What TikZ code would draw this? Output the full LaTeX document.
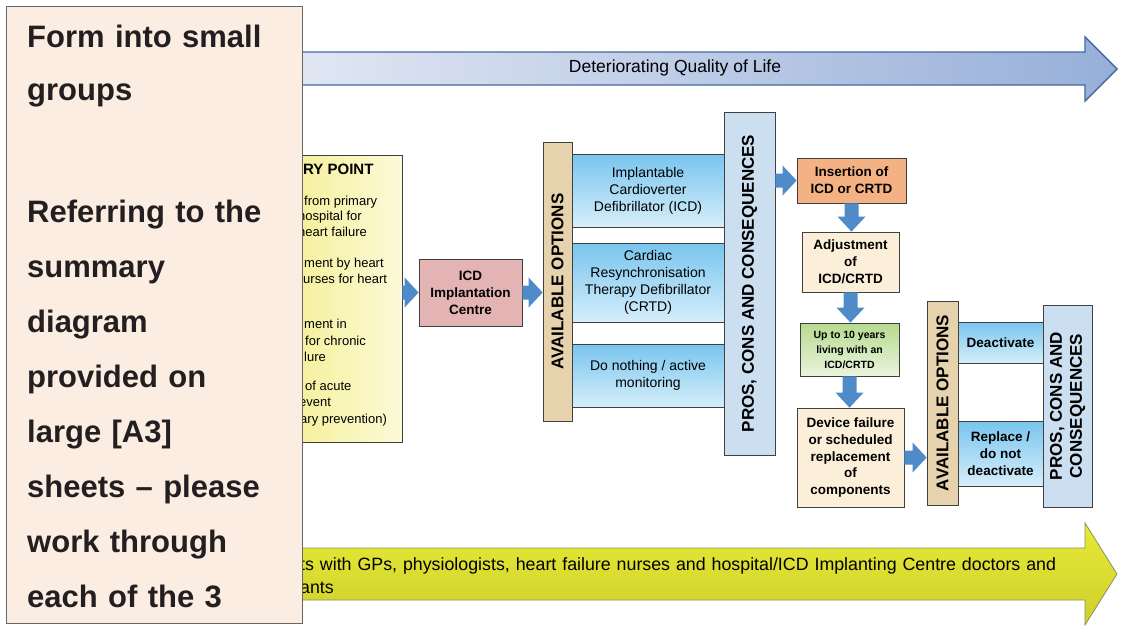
\documentclass[tikz,border=0pt]{standalone}
\usepackage{fontspec}
\setmainfont{Liberation Sans}
\usetikzlibrary{calc}
\definecolor{panelfill}{HTML}{FCEDE2}
\definecolor{paneltext}{HTML}{231F20}
\definecolor{edge}{HTML}{404040}
\definecolor{qolleft}{HTML}{E1E7F3}
\definecolor{qolright}{HTML}{97AFD9}
\definecolor{qoledge}{HTML}{44689E}
\definecolor{ylwtop}{HTML}{E8EA36}
\definecolor{ylwbot}{HTML}{CDCF2C}
\definecolor{ylwedge}{HTML}{8E8E63}
\definecolor{entryleft}{HTML}{F5F09C}
\definecolor{entryright}{HTML}{FCFAD8}
\definecolor{pinkfill}{HTML}{E4B4B4}
\definecolor{tanfill}{HTML}{E6D2AC}
\definecolor{optop}{HTML}{78C5EE}
\definecolor{opbot}{HTML}{D6EEFA}
\definecolor{prosfill}{HTML}{CCDFF1}
\definecolor{orangefill}{HTML}{F4B183}
\definecolor{creamfill}{HTML}{FBEFD9}
\definecolor{greentop}{HTML}{B6DA8F}
\definecolor{greenbot}{HTML}{EAF4DD}
\definecolor{arrowblue}{HTML}{4F8BC8}
\newcommand\hblockarrow[2]{\fill[blockarrow] let \p1=#1, \p2=#2 in
  (\x1,\y1+7) -- (\x2-14,\y1+7) -- (\x2-14,\y1+15) -- (\x2,\y1) --
  (\x2-14,\y1-15) -- (\x2-14,\y1-7) -- (\x1,\y1-7) -- cycle;}
\newcommand\vblockarrow[2]{\fill[blockarrow] let \p1=#1, \p2=#2 in
  (\x1-7,\y1) -- (\x1-7,\y2+15) -- (\x1-14,\y2+15) -- (\x1,\y2) --
  (\x1+14,\y2+15) -- (\x1+7,\y2+15) -- (\x1+7,\y1) -- cycle;}
\begin{document}
\begin{tikzpicture}[x=1pt,y=-1pt,
  every node/.style={inner sep=0pt, align=center},
  box/.style={draw=edge, line width=0.8pt},
  bold/.style={font=\bfseries\fontsize{13.5}{17}\selectfont},
  plain/.style={font=\fontsize{14}{17}\selectfont},
  vbar/.style={draw=edge, line width=0.8pt, rotate=90, font=\bfseries\fontsize{17}{20}\selectfont},
  blockarrow/.style={fill=arrowblue},
  entrytext/.style={anchor=base west, font=\fontsize{13}{16}\selectfont}]
\useasboundingbox (0,0) rectangle (1142,625);
\fill[white] (0,0) rectangle (1142,625);

% top arrow: Deteriorating Quality of Life
\shade[left color=qolleft, right color=qolright]
  (290,52) -- (1085,52) -- (1085,37) -- (1117,69) -- (1085,101) -- (1085,85) -- (290,85) -- cycle;
\draw[qoledge, line width=1.4pt]
  (290,52) -- (1085,52) -- (1085,37) -- (1117,69) -- (1085,101) -- (1085,85) -- (290,85);
\node[font=\fontsize{17.5}{19}\selectfont] (qol) at (675,68) {Deteriorating Quality of Life};

% bottom arrow
\shade[top color=ylwtop, bottom color=ylwbot]
  (290,548) -- (1085,548) -- (1085,523) -- (1117,574) -- (1085,625) -- (1085,600) -- (290,600) -- cycle;
\draw[ylwedge, line width=0.8pt]
  (290,548) -- (1085,548) -- (1085,523) -- (1117,574) -- (1085,625) -- (1085,600) -- (290,600);
\node[anchor=base west, text width=820pt, align=left, font=\fontsize{17.8}{23}\selectfont] (contacts) at (300,570)
  {ts with GPs, physiologists, heart failure nurses and hospital/ICD Implanting Centre doctors and\\ants};

% entry point box
\node[box, left color=entryleft, right color=entryright, minimum width=106pt, minimum height=287pt] (entrybox) at (349,298.5) {};
\node[anchor=base west, font=\bfseries\fontsize{15}{17}\selectfont] (entrytitle) at (303,174) {RY POINT};
\node[entrytext] (e1) at (304,205) {from primary};
\node[entrytext] (e2) at (298,220.7) {hospital for};
\node[entrytext] (e3) at (298,236.7) {heart failure};
\node[entrytext] (e4) at (304,267.7) {ment by heart};
\node[entrytext] (e5) at (303,283) {urses for heart};
\node[entrytext] (e6) at (304,328) {ment in};
\node[entrytext] (e7) at (305,345) {for chronic};
\node[entrytext] (e8) at (304,361.7) {lure};
\node[entrytext] (e9) at (305,390) {of acute};
\node[entrytext] (e10) at (299,406.7) {event};
\node[entrytext] (e11) at (300,423) {ary prevention)};

% ICD implantation centre
\node[box, bold, fill=pinkfill, minimum width=103pt, minimum height=67pt] (icd) at (470.5,292.5) {ICD\\Implantation\\Centre};

% options
\node[box, plain, top color=optop, bottom color=opbot, minimum width=152pt, minimum height=73pt] (opt1) at (648,190.5)
  {Implantable\\Cardioverter\\Defibrillator (ICD)};
\node[box, plain, top color=optop, bottom color=opbot, minimum width=152pt, minimum height=79pt] (opt2) at (648,282.5)
  {Cardiac\\Resynchronisation\\Therapy Defibrillator\\(CRTD)};
\node[box, plain, top color=optop, bottom color=opbot, minimum width=152pt, minimum height=63pt] (opt3) at (648,375.5)
  {Do nothing / active\\monitoring};
\node[vbar, fill=tanfill, minimum width=279pt, minimum height=29pt] (avail1) at (557.5,281.5) {AVAILABLE OPTIONS};
\node[vbar, fill=prosfill, minimum width=343pt, minimum height=51pt] (pros1) at (749.5,283.5) {PROS, CONS AND CONSEQUENCES};

% right column
\node[box, bold, fill=orangefill, minimum width=109pt, minimum height=45pt] (insert) at (851.5,180.5) {Insertion of\\ICD or CRTD};
\node[box, bold, fill=creamfill, minimum width=97pt, minimum height=60pt] (adjust) at (850.5,262) {Adjustment\\of\\ICD/CRTD};
\node[box, top color=greentop, bottom color=greenbot, minimum width=99pt, minimum height=53pt,
  font=\bfseries\fontsize{10.5}{15}\selectfont] (years) at (849.5,349.5) {Up to 10 years\\living with an\\ICD/CRTD};
\node[box, fill=creamfill, minimum width=107pt, minimum height=99pt,
  font=\bfseries\fontsize{13.5}{16.7}\selectfont] (device) at (850.5,457.5)
  {Device failure\\or scheduled\\replacement\\of\\components};

\node[box, bold, top color=optop, bottom color=opbot, minimum width=85pt, minimum height=41pt] (deact) at (1000.5,342.5) {Deactivate};
\node[box, bold, top color=optop, bottom color=opbot, minimum width=85pt, minimum height=65pt] (replace) at (1000.5,453.5) {Replace /\\do not\\deactivate};
\node[vbar, fill=tanfill, minimum width=204pt, minimum height=31pt] (avail2) at (942.5,403) {AVAILABLE OPTIONS};
\node[vbar, fill=prosfill, minimum width=202pt, minimum height=49pt] (pros2) at (1067.5,406) {PROS, CONS AND\\CONSEQUENCES};

% block arrows
\hblockarrow{(entrybox.east |- icd.west)}{(icd.west)}
\hblockarrow{(icd.east)}{(avail1.north)}
\hblockarrow{(pros1.south |- insert.west)}{(insert.west)}
\hblockarrow{(device.east)}{(avail2.north)}
\vblockarrow{(insert.south)}{(adjust.north)}
\vblockarrow{(adjust.south)}{(years.north)}
\vblockarrow{(years.south)}{(device.north)}

% overlay panel
\node[draw=edge!80, line width=1pt, fill=panelfill, minimum width=296pt, minimum height=617pt] (panel) at (154,314.5) {};
\node[anchor=base west, text width=272pt, align=left, text=paneltext,
  font=\bfseries\fontsize{31}{53}\selectfont] (task1) at (27,47) {Form into small\\groups};
\node[anchor=base west, text width=272pt, align=left, text=paneltext,
  font=\bfseries\fontsize{31}{55}\selectfont] (task2) at (27,222)
  {Referring to the\\summary\\diagram\\provided on\\large [A3]\\sheets – please\\work through\\each of the 3};
\end{tikzpicture}
\end{document}
